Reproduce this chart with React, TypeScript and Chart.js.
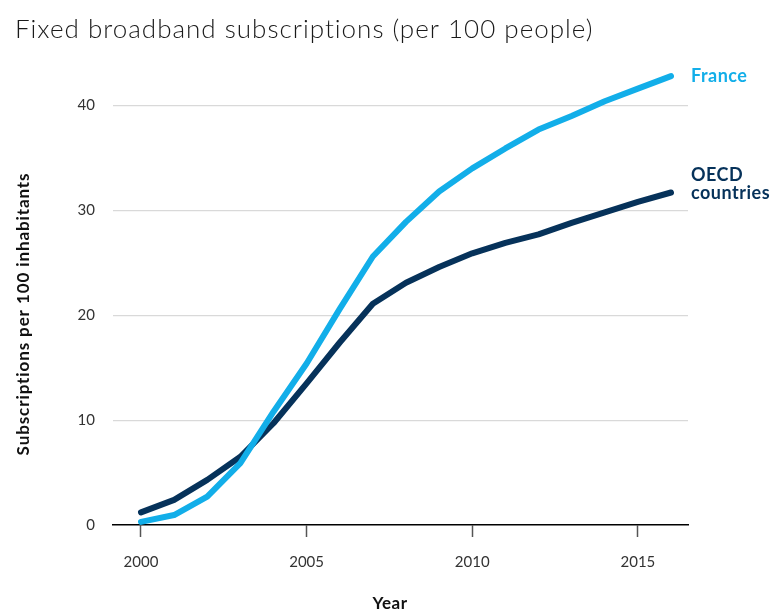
import React, { useEffect, useRef } from "react";
import { Chart, registerables } from "chart.js";

Chart.register(...registerables);

const years = [2000, 2001, 2002, 2003, 2004, 2005, 2006, 2007, 2008, 2009, 2010, 2011, 2012, 2013, 2014, 2015, 2016];
const france = [0.3, 0.95, 2.7, 5.9, 10.8, 15.4, 20.6, 25.6, 28.9, 31.8, 34.0, 35.9, 37.7, 39.0, 40.4, 41.6, 42.8];
const oecd = [1.2, 2.4, 4.3, 6.5, 9.7, 13.5, 17.4, 21.1, 23.1, 24.6, 25.9, 26.9, 27.7, 28.8, 29.8, 30.8, 31.7];
const xTicks = [2000, 2005, 2010, 2015];
const yTicks = [0, 10, 20, 30, 40];
const titleText = "Fixed broadband subscriptions (per 100 people)";
const yTitle = "Subscriptions per 100 inhabitants";
const xTitle = "Year";
const franceLabel = ["France"];
const oecdLabel = ["OECD", "countries"];

const FRANCE_COLOR = "#12aee9";
const OECD_COLOR = "#06325a";
const FONT = "Lato, 'Noto Sans', sans-serif";

export default function App() {
  const ref = useRef<HTMLCanvasElement>(null);

  useEffect(() => {
    document.body.style.margin = "0";
    const canvas = ref.current!;
    const textPlugin = {
      id: "texts",
      afterDraw(chart: any) {
        const ctx = chart.ctx as any;
        const xs = chart.scales.x;
        const ys = chart.scales.y;
        ctx.save();
        // title
        ctx.fillStyle = "#1a1a1a";
        ctx.font = `300 26px ${FONT}`;
        ctx.letterSpacing = "1px";
        ctx.textAlign = "left";
        ctx.textBaseline = "alphabetic";
        ctx.fillText(titleText, 15, 38);
        // x title
        ctx.fillStyle = "#111";
        ctx.font = `bold 17px ${FONT}`;
        ctx.letterSpacing = "0.5px";
        ctx.textAlign = "center";
        ctx.textBaseline = "middle";
        ctx.fillText(xTitle, 390, 604);
        // y title
        ctx.save();
        ctx.translate(24, 314);
        ctx.rotate(-Math.PI / 2);
        ctx.letterSpacing = "0.9px";
        ctx.fillText(yTitle, 0, 0);
        ctx.restore();
        // end labels
        const endX = xs.getPixelForValue(years[years.length - 1]) + 20;
        ctx.textAlign = "left";
        ctx.font = `bold 18px ${FONT}`;
        ctx.letterSpacing = "0.5px";
        ctx.fillStyle = FRANCE_COLOR;
        const fy = ys.getPixelForValue(france[france.length - 1]);
        franceLabel.forEach((t, i) => ctx.fillText(t, endX, fy + i * 18));
        ctx.fillStyle = OECD_COLOR;
        const oy = ys.getPixelForValue(oecd[oecd.length - 1]);
        oecdLabel.forEach((t, i) => ctx.fillText(t, endX, oy - 17 + i * 18));
        ctx.restore();
      },
    };

    const chart = new Chart(canvas, {
      type: "line",
      data: {
        datasets: [
          {
            label: "France",
            data: years.map((y, i) => ({ x: y, y: france[i] })),
            borderColor: FRANCE_COLOR,
            borderWidth: 6,
            borderCapStyle: "round",
            borderJoinStyle: "round",
            pointRadius: 0,
            tension: 0,
            clip: false as any,
          },
          {
            label: "OECD countries",
            data: years.map((y, i) => ({ x: y, y: oecd[i] })),
            borderColor: OECD_COLOR,
            borderWidth: 6,
            borderCapStyle: "round",
            borderJoinStyle: "round",
            pointRadius: 0,
            tension: 0,
            clip: false as any,
          },
        ],
      },
      options: {
        animation: false,
        responsive: false,
        maintainAspectRatio: false,
        layout: { padding: { top: 53, right: 83, left: 0, bottom: 0 } },
        plugins: {
          legend: { display: false },
          tooltip: { enabled: false },
          title: { display: false },
        },
        scales: {
          x: {
            type: "linear",
            min: 1999.155,
            max: 2016.513,
            afterBuildTicks: (s: any) => {
              s.ticks = xTicks.map((v) => ({ value: v }));
            },
            afterFit: (s: any) => {
              s.height = 88;
            },
            grid: {
              drawOnChartArea: false,
              drawTicks: true,
              tickLength: 12,
              tickColor: "#555",
              tickWidth: 1.5,
            },
            border: { display: true, color: "#000", width: 1.5 },
            ticks: {
              padding: 16,
              color: "#333",
              font: { family: FONT, size: 15 },
              callback: (v: any) => String(v),
            },
          },
          y: {
            type: "linear",
            min: 0,
            max: 45,
            afterBuildTicks: (s: any) => {
              s.ticks = yTicks.map((v) => ({ value: v }));
            },
            afterFit: (s: any) => {
              s.width = 113;
            },
            grid: {
              drawTicks: false,
              color: (c: any) => (c.tick && c.tick.value === 0 ? "rgba(0,0,0,0)" : "#d9d9d9"),
              lineWidth: 1.2,
            },
            border: { display: false },
            ticks: {
              padding: 18,
              color: "#333",
              font: { family: FONT, size: 15 },
              callback: (v: any) => String(v),
            },
          },
        },
      },
      plugins: [textPlugin],
    } as any);
    return () => chart.destroy();
  }, []);

  return <canvas ref={ref} width={771} height={613} style={{ display: "block" }} />;
}
